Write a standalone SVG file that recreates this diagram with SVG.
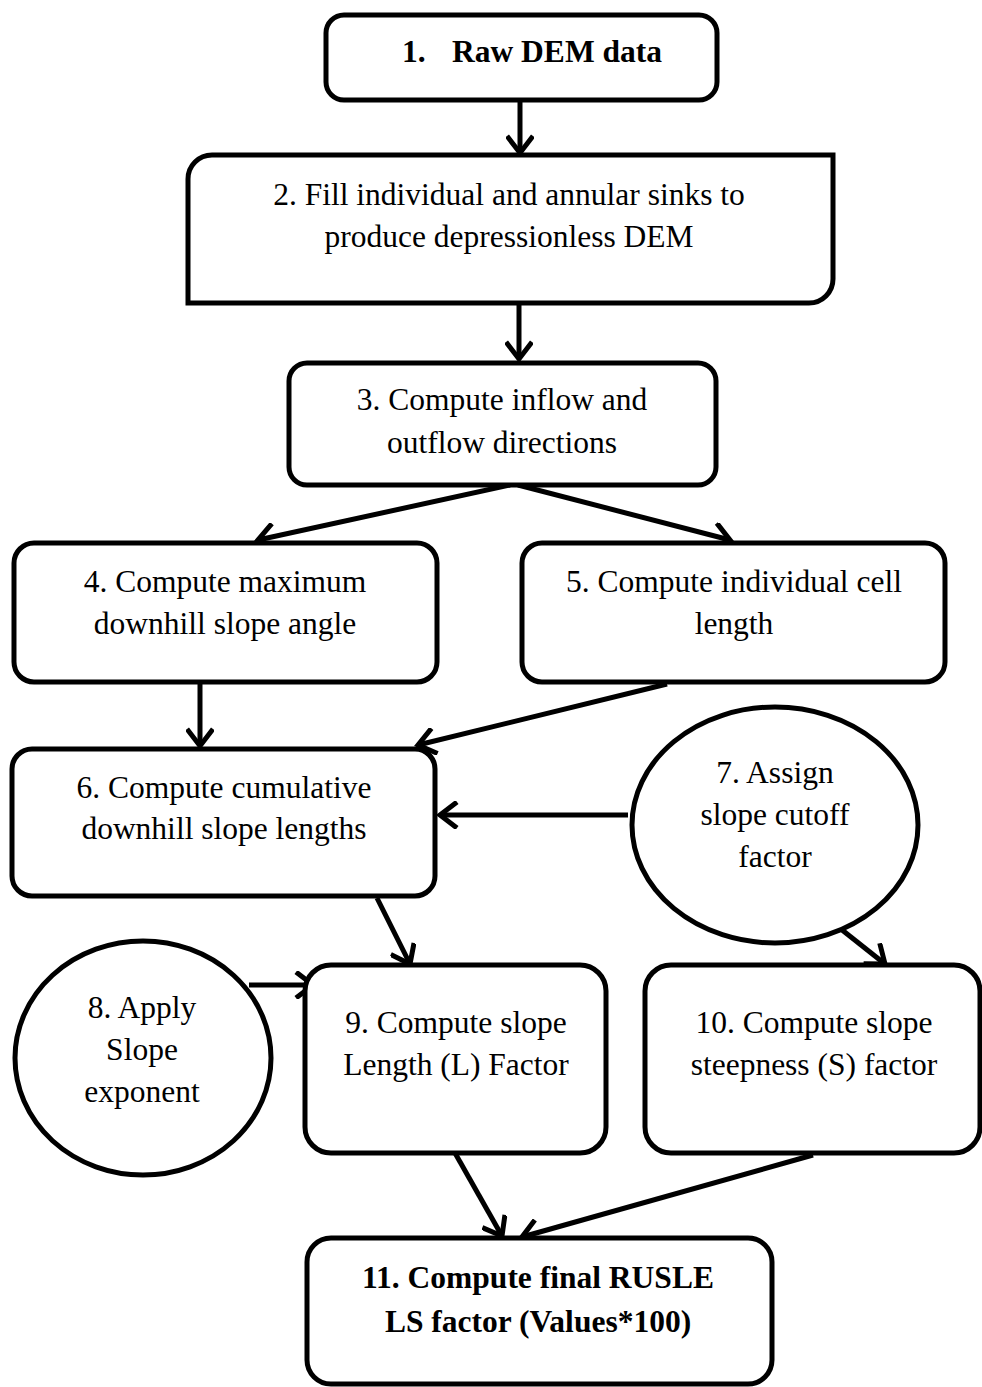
<svg xmlns="http://www.w3.org/2000/svg" width="982" height="1387" viewBox="0 0 982 1387">
<style>
.box{fill:#fff;stroke:#000;stroke-width:5}
.t{font-family:"Liberation Serif","Times New Roman",serif;font-size:31.5px;fill:#000;text-anchor:middle}
.b{font-weight:bold}
.c{fill:none;stroke:#000;stroke-width:5}
</style>
<defs>
<marker id="ah" viewBox="0 0 28 28" refX="22" refY="14" markerWidth="28" markerHeight="28" markerUnits="userSpaceOnUse" orient="auto">
<path d="M5,1 L22,14 L5,27" fill="none" stroke="#000" stroke-width="5"/>
</marker>
</defs>
<rect width="982" height="1387" fill="#fff"/>
<g id="connectors">
<line class="c" x1="520" y1="100" x2="520" y2="153" marker-end="url(#ah)"/>
<line class="c" x1="519" y1="303" x2="519" y2="359" marker-end="url(#ah)"/>
<line class="c" x1="510" y1="485" x2="258" y2="540" marker-end="url(#ah)"/>
<line class="c" x1="518" y1="485" x2="730" y2="540" marker-end="url(#ah)"/>
<line class="c" x1="200" y1="682" x2="200" y2="746" marker-end="url(#ah)"/>
<line class="c" x1="667" y1="684" x2="418" y2="745" marker-end="url(#ah)"/>
<line class="c" x1="628" y1="815" x2="440" y2="815" marker-end="url(#ah)"/>
<line class="c" x1="377" y1="898" x2="410" y2="964" marker-end="url(#ah)"/>
<line class="c" x1="832" y1="922" x2="885" y2="964" marker-end="url(#ah)"/>
<line class="c" x1="249" y1="985" x2="313" y2="985" marker-end="url(#ah)"/>
<line class="c" x1="455" y1="1153" x2="502" y2="1236" marker-end="url(#ah)"/>
<line class="c" x1="813" y1="1155" x2="522" y2="1237" marker-end="url(#ah)"/>
</g>
<g id="n1">
<rect class="box" x="326" y="15" width="391" height="85" rx="18"/>
<text class="t b" style="text-anchor:start" y="62"><tspan x="402">1.</tspan><tspan x="452">Raw DEM data</tspan></text>
</g>
<g id="n2">
<path class="box" d="M188,179 A24,24 0 0 1 212,155 L833,155 L833,279 A24,24 0 0 1 809,303 L188,303 Z"/>
<text class="t" x="509" y="205">2. Fill individual and annular sinks to</text>
<text class="t" x="509" y="247">produce depressionless DEM</text>
</g>
<g id="n3">
<rect class="box" x="289" y="363" width="427" height="122" rx="18"/>
<text class="t" x="502" y="410">3. Compute inflow and</text>
<text class="t" x="502" y="453">outflow directions</text>
</g>
<g id="n4">
<rect class="box" x="14" y="543" width="423" height="139" rx="20"/>
<text class="t" x="225" y="592">4. Compute maximum</text>
<text class="t" x="225" y="634">downhill slope angle</text>
</g>
<g id="n5">
<rect class="box" x="522" y="543" width="423" height="139" rx="20"/>
<text class="t" x="734" y="592">5. Compute individual cell</text>
<text class="t" x="734" y="634">length</text>
</g>
<g id="n6">
<rect class="box" x="12" y="749" width="423" height="147" rx="20"/>
<text class="t" x="224" y="798">6. Compute cumulative</text>
<text class="t" x="224" y="839">downhill slope lengths</text>
</g>
<g id="n7">
<ellipse class="box" cx="775" cy="825" rx="143" ry="118"/>
<text class="t" x="775" y="783">7. Assign</text>
<text class="t" x="775" y="825">slope cutoff</text>
<text class="t" x="775" y="867">factor</text>
</g>
<g id="n8">
<ellipse class="box" cx="143" cy="1058" rx="128" ry="117"/>
<text class="t" x="142" y="1018">8. Apply</text>
<text class="t" x="142" y="1060">Slope</text>
<text class="t" x="142" y="1102">exponent</text>
</g>
<g id="n9">
<rect class="box" x="305" y="965" width="301" height="188" rx="26"/>
<text class="t" x="456" y="1033">9. Compute slope</text>
<text class="t" x="456" y="1075">Length (L) Factor</text>
</g>
<g id="n10">
<rect class="box" x="645" y="965" width="335" height="188" rx="26"/>
<text class="t" x="814" y="1033">10. Compute slope</text>
<text class="t" x="814" y="1075">steepness (S) factor</text>
</g>
<g id="n11">
<rect class="box" x="307" y="1238" width="465" height="146" rx="24"/>
<text class="t b" x="538" y="1288">11. Compute final RUSLE</text>
<text class="t b" x="538" y="1332">LS factor (Values*100)</text>
</g>
</svg>
